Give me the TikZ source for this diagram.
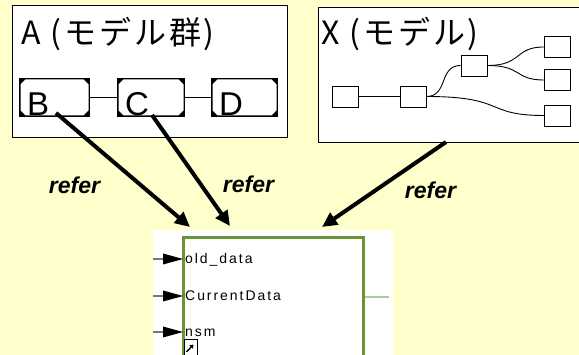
\documentclass[tikz,border=0pt]{standalone}
\usepackage{fontspec}
\setmainfont{Liberation Sans}
\newfontfamily\jpfont[LetterSpace=9]{Noto Sans CJK JP}
\newfontfamily\pinfont[LetterSpace=14]{Liberation Sans}
\usetikzlibrary{arrows.meta,calc}
\definecolor{FondoAmarillo}{RGB}{255,255,204}
\definecolor{VerdeMarco}{RGB}{104,150,52}
\definecolor{VerdeClaro}{RGB}{174,204,144}
\definecolor{GrisPin}{RGB}{120,120,120}

\tikzset{
  marco/.style={draw=black,line width=0.9pt,fill=white,inner sep=0pt},
  cuadro/.style={draw=black,line width=0.9pt,fill=white,minimum width=26pt,minimum height=21pt,inner sep=0pt},
  titulo/.style={anchor=base west,inner sep=0pt,font=\jpfont\fontsize{32}{32}\selectfont},
  letra/.style={anchor=base west,inner sep=0pt,font=\fontsize{33}{33}\selectfont},
  referir/.style={anchor=base,inner sep=0pt,font=\bfseries\itshape\fontsize{23}{23}\selectfont},
  pin/.style={anchor=base west,inner sep=0pt,font=\pinfont\fontsize{14}{14}\selectfont},
  flecha/.style={line width=4pt,-{Triangle[length=15pt,width=14pt]}}
}

\begin{document}
\begin{tikzpicture}[x=1pt,y=-1pt]
  \useasboundingbox (0,0) rectangle (579,355);
  \clip (0,0) rectangle (579,355);
  \fill[FondoAmarillo] (0,0) rectangle (579,355);

  % modelo A
  \node[marco,minimum width=275pt,minimum height=132pt] (cajaA) at (149.5,71) {};
  \node[titulo] (tituloA) at (21,45) {A (モデル群)};
  \foreach \n/\xa/\xb in {B/19/90,C/117/185,D/211/278}{
    \node[fill=black,inner sep=0pt,minimum width={(\xb-\xa)*1pt},minimum height=39pt]
      (caja\n) at ({(\xa+\xb)/2},97.5) {};
    \fill[white] ({\xa+1.5},84.5) -- ({\xa+6.5},79.5) -- ({\xb-6.5},79.5) -- ({\xb-1.5},84.5)
      -- ({\xb-1.5},110.5) -- ({\xb-6.5},115.5) -- ({\xa+6.5},115.5) -- ({\xa+1.5},110.5) -- cycle;
    \node[letra] (letra\n) at ({\xa+8},116) {\n};
  }
  \draw[line width=1.1pt] (cajaB.east) -- (cajaC.west);
  \draw[line width=1.1pt] (cajaC.east) -- (cajaD.west);

  % modelo X
  \node[marco,minimum width=290pt,minimum height=135pt] (cajaX) at (463,74.5) {};
  \node[titulo] (tituloX) at (321,45) {X (モデル)};
  \node[cuadro] (x1) at (345,96.5) {};
  \node[cuadro] (x2) at (413,96.5) {};
  \node[cuadro] (x3) at (474,65.5) {};
  \node[cuadro] (x4) at (557.5,47) {};
  \node[cuadro] (x5) at (557.5,80) {};
  \node[cuadro] (x6) at (557.5,115.5) {};
  \draw[line width=0.9pt] (x1) -- (x2);
  \draw[line width=0.9pt] (x2.east) .. controls +(22,0) and +(-22,0) .. (x3.west);
  \draw[line width=0.9pt] (x2.east) .. controls +(80,0) and +(-60,0) .. (x6.west);
  \draw[line width=0.9pt] (x3.east) .. controls +(35,0) and +(-30,0) .. (x4.west);
  \draw[line width=0.9pt] (x3.east) .. controls +(35,0) and +(-30,0) .. (x5.west);

  % bloque
  \node[fill=white,inner sep=0pt,minimum width=240pt,minimum height=135pt] (fondo) at (273,297.5) {};
  \draw[VerdeMarco,line width=3pt] (183,238) rectangle (363,370);
  \draw[VerdeClaro,line width=2.2pt] (364.5,297) -- (389,297);
  \foreach \y/\txt/\nom in {259/old\_data/p1,296/CurrentData/p2,332/nsm/p3}{
    \draw[GrisPin,line width=2pt] (153,\y) -- (164,\y);
    \fill[black] (163,{\y-5.5}) -- (183,\y) -- (163,{\y+5.5}) -- cycle;
    \node[pin] (\nom) at (185,{\y+5}) {\txt};
  }
  \draw[line width=1pt] (184,340) rectangle (197,357);
  \draw[line width=1.4pt,-{Triangle[length=3.5pt,width=4.5pt]}] (186.5,352) -- (193.5,344.5);

  % referencias
  \coordinate (s1) at (56,113);
  \coordinate (s2) at (152,115);
  \coordinate (s3) at (446,142);
  \coordinate (e1) at (190,227);
  \coordinate (e2) at (230,226);
  \coordinate (e3) at (322,227);
  \draw[flecha] (s1) -- (e1);
  \draw[flecha] (s2) -- (e2);
  \draw[flecha] (s3) -- (e3);
  \node[referir] (ref1) at (74.5,194) {refer};
  \node[referir] (ref2) at (248.5,193) {refer};
  \node[referir] (ref3) at (430.5,199) {refer};
\end{tikzpicture}
\end{document}
